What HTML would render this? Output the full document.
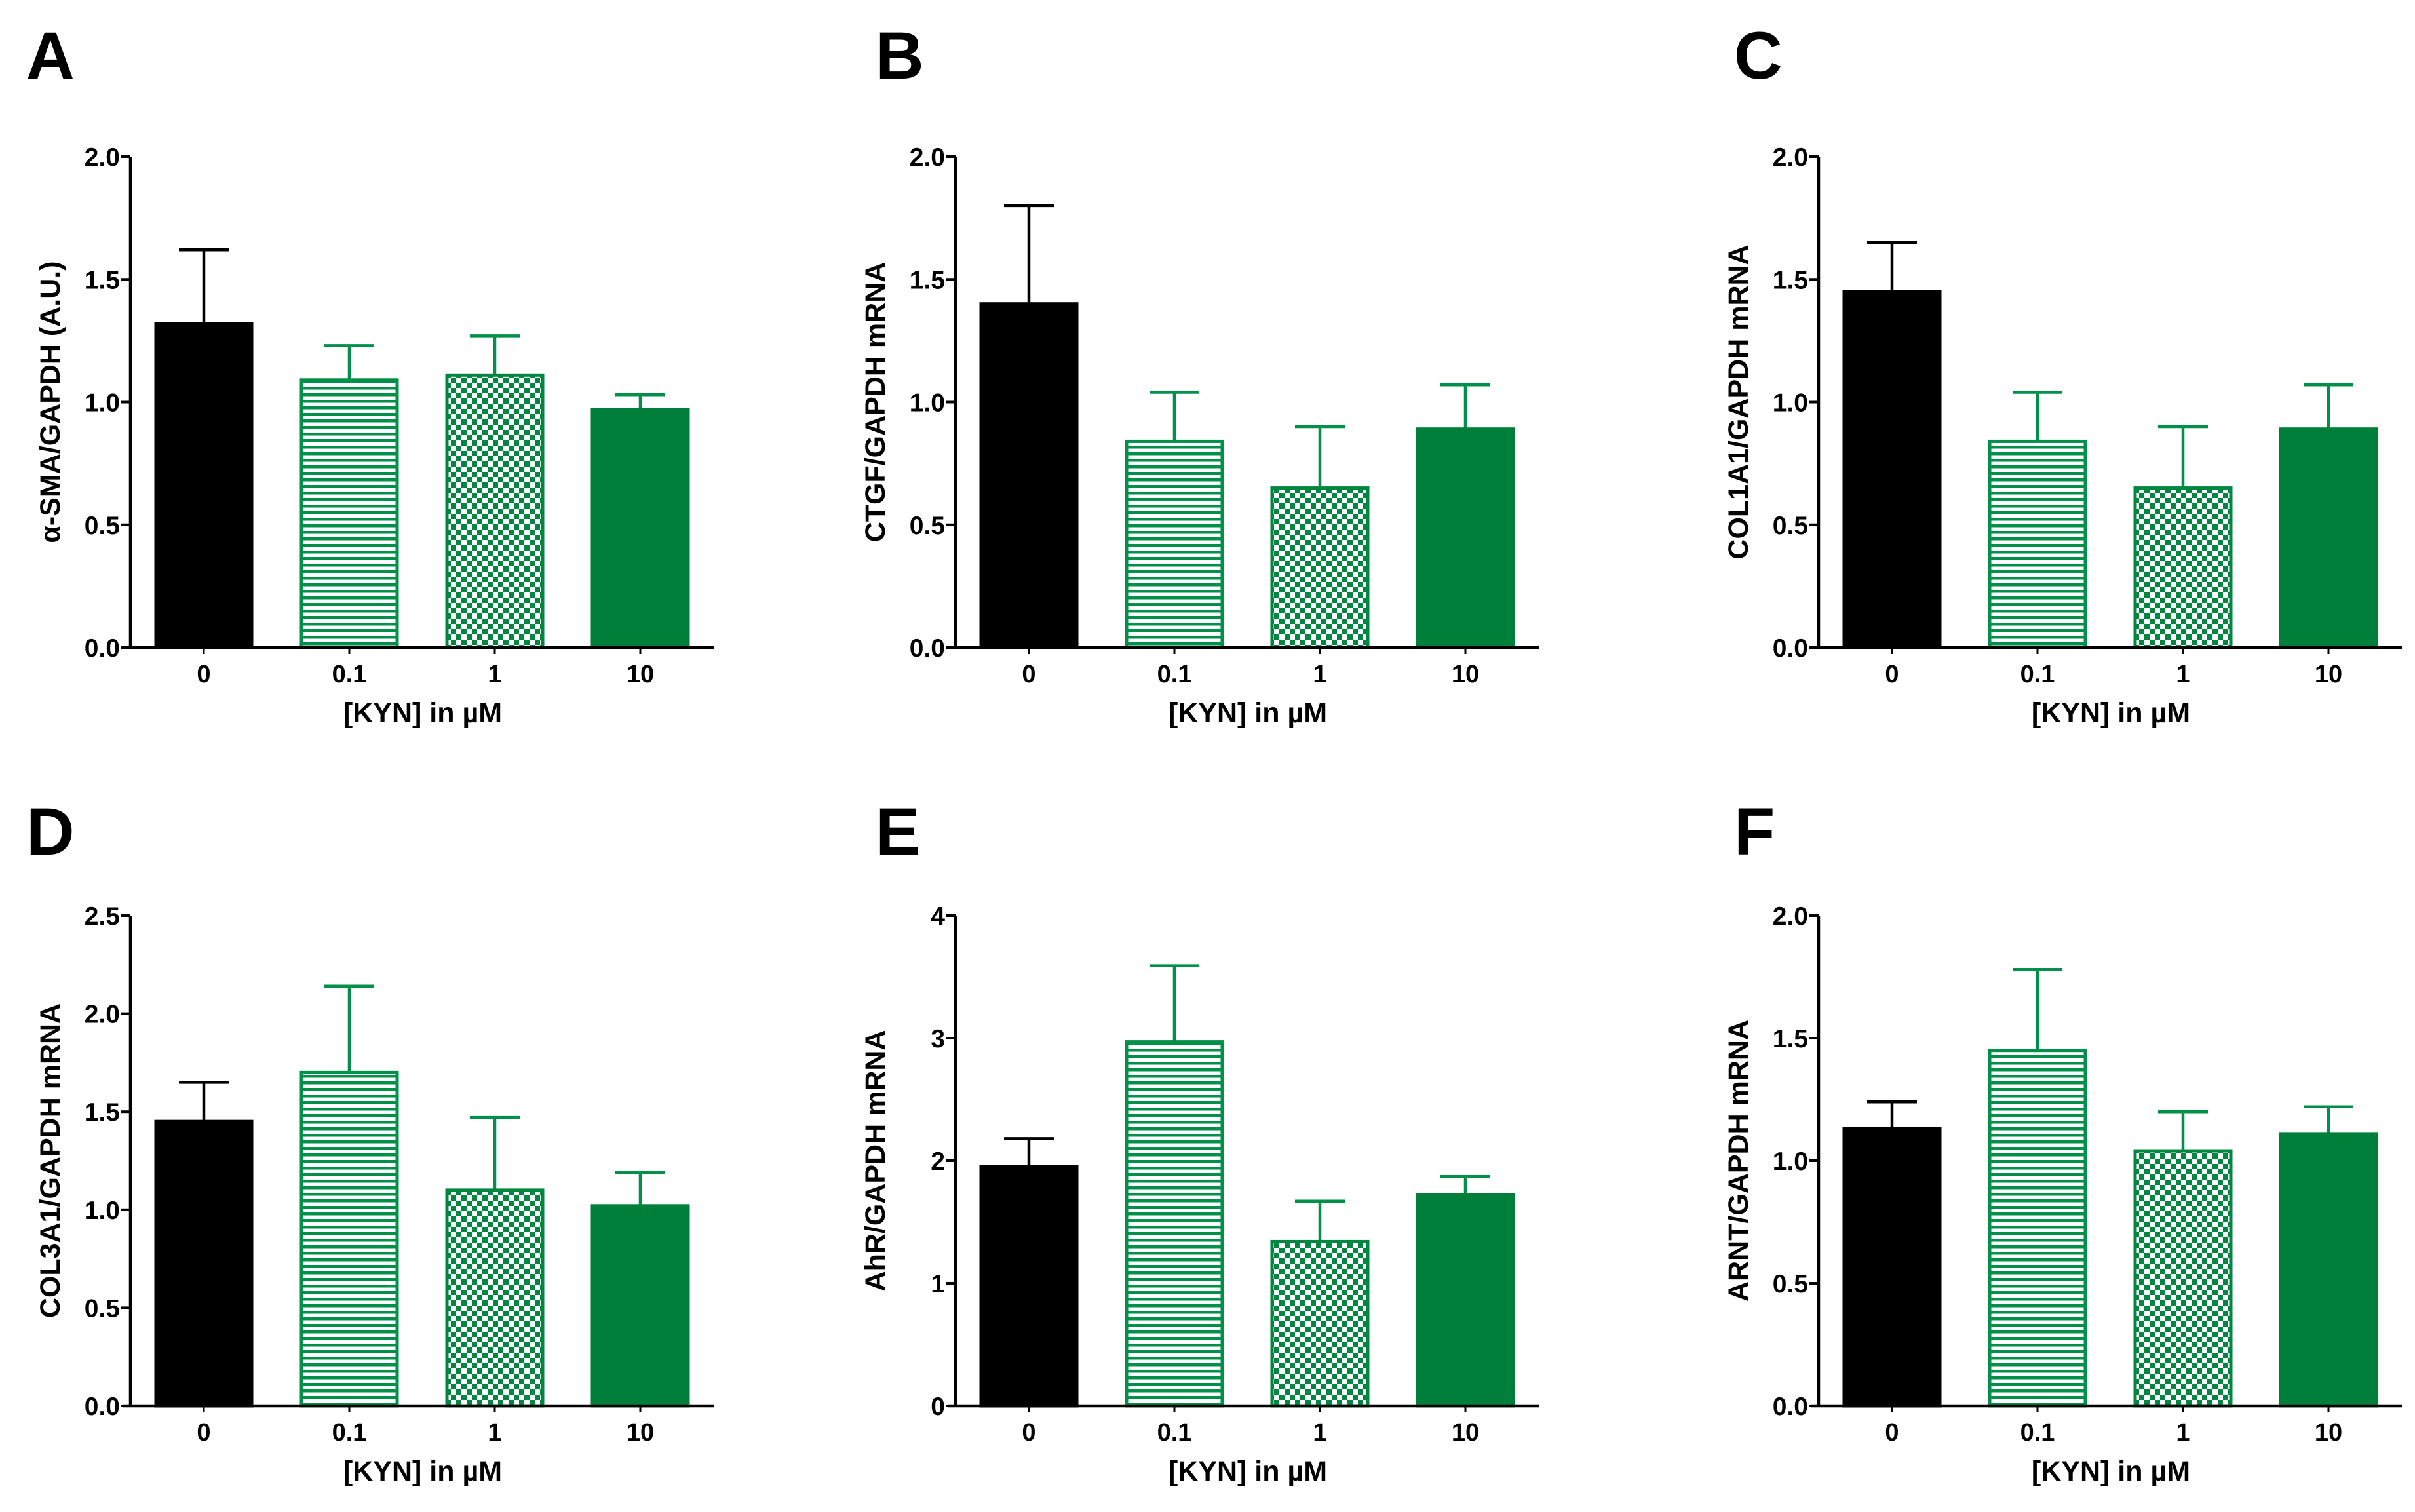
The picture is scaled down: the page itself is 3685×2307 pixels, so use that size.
<!DOCTYPE html>
<html><head><meta charset="utf-8">
<style>
html,body{margin:0;padding:0;background:#fff;}
svg{display:block;font-family:"Liberation Sans",Arial,sans-serif;font-weight:bold;}
</style></head>
<body>
<svg id="fig" width="3685" height="2307" viewBox="0 0 3685 2307" xmlns="http://www.w3.org/2000/svg">
<defs>
<pattern id="hlines" patternUnits="userSpaceOnUse" width="20" height="10">
<rect width="20" height="10" fill="#fff"/><rect y="0" width="20" height="4.5" fill="#00904a"/>
</pattern>
<pattern id="checker" patternUnits="userSpaceOnUse" width="16" height="16">
<rect width="16" height="16" fill="#fff"/><rect width="8" height="8" fill="#00873f"/><rect x="8" y="8" width="8" height="8" fill="#00873f"/>
</pattern>
</defs>
</svg>
<script>
const categories = ["0","0.1","1","10"];
const panelLetters = ["A","B","C","D","E","F"];
const yTitles = ["α-SMA/GAPDH (A.U.)","CTGF/GAPDH mRNA","COL1A1/GAPDH mRNA","COL3A1/GAPDH mRNA","AhR/GAPDH mRNA","ARNT/GAPDH mRNA"];
const meansA = [1.32,1.09,1.11,0.97];
const errTopA = [1.62,1.23,1.27,1.03];
const meansB = [1.40,0.84,0.65,0.89];
const errTopB = [1.80,1.04,0.90,1.07];
const meansC = [1.45,0.84,0.65,0.89];
const errTopC = [1.65,1.04,0.90,1.07];
const meansD = [1.45,1.70,1.10,1.02];
const errTopD = [1.65,2.14,1.47,1.19];
const meansE = [1.95,2.97,1.34,1.72];
const errTopE = [2.18,3.59,1.67,1.87];
const meansF = [1.13,1.45,1.04,1.11];
const errTopF = [1.24,1.78,1.20,1.22];
const ticks02 = ["0.0","0.5","1.0","1.5","2.0"];
const ticks025 = ["0.0","0.5","1.0","1.5","2.0","2.5"];
const ticks04 = ["0","1","2","3","4"];
const yMaxes = [2,2,2,2.5,4,2];

const means=[meansA,meansB,meansC,meansD,meansE,meansF];
const errs=[errTopA,errTopB,errTopC,errTopD,errTopE,errTopF];
const tickSets=[ticks02,ticks02,ticks02,ticks025,ticks04,ticks02];
const svg=document.getElementById('fig');
const NS="http://www.w3.org/2000/svg";
function mk(tag,attrs,parent){const e=document.createElementNS(NS,tag);for(const k in attrs)e.setAttribute(k,attrs[k]);(parent||svg).appendChild(e);return e;}
const axX=[199,1458,2775];
const rows=[{top:239,bot:988,letterY:120},{top:1397,bot:2145,letterY:1304}];
const letterX=[40,1336,2646];
const fills=["#000","url(#hlines)","url(#checker)","#007f3a"];
const strokes=["#000","#00904a","#00873f","#007f3a"];
const errCol=["#000","#00904a","#00904a","#00904a"];
for(let p=0;p<6;p++){
  const col=p%3,row=Math.floor(p/3);
  const ax=axX[col],top=rows[row].top,bot=rows[row].bot;
  const g=mk('g',{});
  
  
  const ymax=yMaxes[p];
  const y=v=>bot-(v/ymax)*(bot-top);
  const x=i=>ax+112+i*222;
  const lt=mk('text',{x:letterX[col],y:rows[row].letterY,'font-size':102},g);lt.textContent=panelLetters[p];
  
  for(let i=0;i<4;i++){
    const v=means[p][i],e=errs[p][i];
    const eb=mk('g',{},g);
    
    mk('line',{x1:x(i),x2:x(i),y1:y(v),y2:y(e),stroke:errCol[i],'stroke-width':4.5},eb);
    mk('line',{x1:x(i)-38,x2:x(i)+38,y1:y(e),y2:y(e),stroke:errCol[i],'stroke-width':4.5},eb);
    const r=mk('rect',{x:x(i)-73,y:y(v),width:146,height:bot-y(v),fill:fills[i],stroke:strokes[i],'stroke-width':5},g);
    
    const tl=mk('text',{x:x(i),y:bot+53,'font-size':38,'text-anchor':'middle'},g);tl.textContent=categories[i];
    
    mk('line',{x1:x(i),x2:x(i),y1:bot,y2:bot+10,stroke:'#000','stroke-width':3},g);
  }
  const ya=mk('line',{x1:ax,x2:ax,y1:top,y2:bot+2,stroke:'#000','stroke-width':4.5},g);
  
  const xa=mk('line',{x1:ax-12,x2:ax+890,y1:bot,y2:bot,stroke:'#000','stroke-width':4.5},g);
  
  const ts=tickSets[p];
  for(let k=0;k<ts.length;k++){
    const v=parseFloat(ts[k]);
    mk('line',{x1:ax-14,x2:ax,y1:y(v),y2:y(v),stroke:'#000','stroke-width':4},g);
    const t=mk('text',{x:ax-16,y:y(v)+14,'font-size':39,'text-anchor':'end'},g);t.textContent=ts[k];
    
  }
  const yt=mk('text',{x:0,y:0,'font-size':43,'text-anchor':'middle',transform:`translate(${ax-108},${(top+bot)/2}) rotate(-90)`},g);
  yt.textContent=yTitles[p];
  
  const xt=mk('text',{x:ax+446,y:bot+114,'font-size':43,'text-anchor':'middle'},g);xt.textContent="[KYN] in µM";
  
}
</script>
</body></html>
